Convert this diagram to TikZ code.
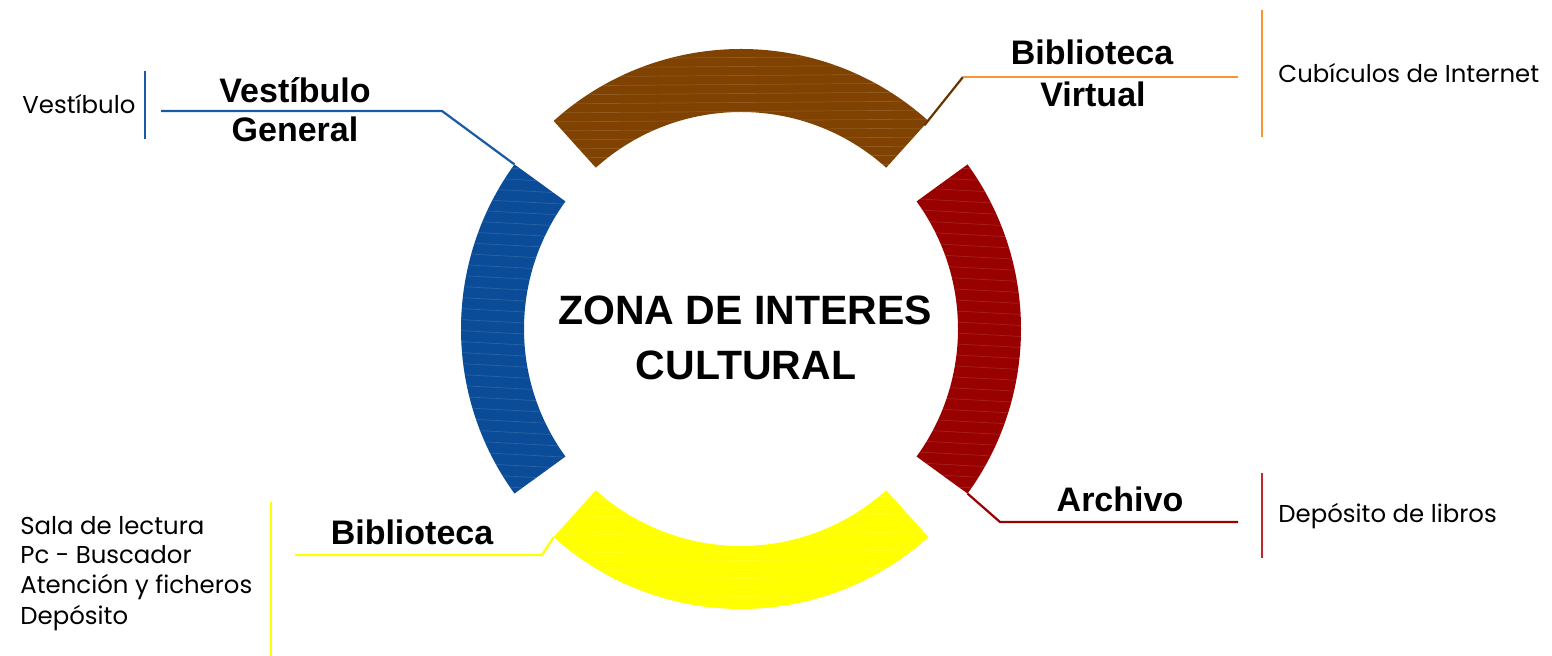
\documentclass[tikz,border=0pt]{standalone}
\usepackage{fontspec}
\setmainfont{Liberation Sans}
\newfontfamily\thinfont{Poppins}
\usetikzlibrary{calc}
\definecolor{cbrown}{RGB}{128,66,0}
\definecolor{cblue}{RGB}{11,76,152}
\definecolor{cred}{RGB}{153,0,0}
\definecolor{cyellow}{RGB}{255,255,0}
\definecolor{corange}{RGB}{247,150,50}
\definecolor{lred}{RGB}{190,40,45}
\definecolor{lblue}{RGB}{25,90,165}
\newcommand{\ringseg}[2]{($(C)+(#1:140pt)$) arc[start angle=#1,end angle=#2,radius=140pt] -- ($(C)+(#2:108.5pt)$) arc[start angle=#2,end angle=#1,radius=108.5pt] -- cycle}
\tikzset{
  lab/.style={font=\bfseries\fontsize{17}{19}\selectfont, inner sep=0pt, anchor=base},
  title/.style={font=\bfseries\fontsize{20.5}{24}\selectfont, inner sep=0pt, anchor=base},
  small/.style={font=\thinfont\fontsize{12.2}{14}\selectfont, inner sep=0pt, anchor=base west},
  conn/.style={line width=1.1pt},
  bar/.style={line width=1.3pt},
  streak/.style={white, opacity=0.13, line width=0.35pt}
}
\begin{document}
\begin{tikzpicture}[x=0.5pt,y=0.5pt]
\useasboundingbox (0,0) rectangle (1552,656);
\coordinate (C) at (741,327);
% ring segments
\fill[cbrown] \ringseg{48}{132};
\fill[cred] \ringseg{-36}{36};
\fill[cyellow] \ringseg{228}{312};
\fill[cblue] \ringseg{144}{216};
% streak texture
\begin{scope}
\clip \ringseg{48}{132};
\foreach \k in {0,...,20} \draw[streak] (540,480+\k*9) -- (950,483+\k*9);
\end{scope}
\begin{scope}
\clip \ringseg{-36}{36};
\foreach \k in {0,...,32} \draw[streak] (900,150+\k*11) -- (1030,143+\k*11);
\end{scope}
\begin{scope}
\clip \ringseg{144}{216};
\foreach \k in {0,...,32} \draw[streak] (450,150+\k*11) -- (580,143+\k*11);
\end{scope}
\begin{scope}
\clip \ringseg{228}{312};
\foreach \k in {0,...,18} \draw[streak] (540,40+\k*9) -- (950,43+\k*9);
\end{scope}
% connector anchor points on the ring
\coordinate (pb) at ($(C)+(144:140pt)$);
\coordinate (pn) at ($(C)+(48:137pt)$);
\coordinate (pr) at ($(C)+(-36:140pt)$);
\coordinate (py) at ($(C)+(228:140pt)$);
\coordinate (kb) at (442,545);
\coordinate (eb) at (161,545);
\coordinate (kn) at (963,579);
\coordinate (en) at (1238,579);
\coordinate (kr) at (1000,134);
\coordinate (er) at (1238,134);
\coordinate (ky) at (542,101);
\coordinate (ey) at (295,101);
\draw[conn, lblue] (pb) -- (kb) -- (eb);
\draw[conn, cbrown!80!black] (pn) -- (kn);
\draw[conn, corange] (kn) -- (en);
\draw[conn, cred] (pr) -- (kr) -- (er);
\draw[conn, cyellow] (py) -- (ky) -- (ey);
% separator bars
\coordinate (vb1) at (145,585); \coordinate (vb2) at (145,517);
\coordinate (vn1) at (1262,646); \coordinate (vn2) at (1262,519);
\coordinate (vr1) at (1262,183); \coordinate (vr2) at (1262,98);
\coordinate (vy1) at (271,154); \coordinate (vy2) at (271,0);
\draw[bar, lblue] (vb1) -- (vb2);
\draw[bar, corange] (vn1) -- (vn2);
\draw[bar, lred] (vr1) -- (vr2);
\draw[bar, cyellow] (vy1) -- (vy2);
% labels
\node[lab] (vg1) at (295,553) {Vestíbulo};
\node[lab] (vg2) at (295,514) {General};
\node[lab] (bv1) at (1092,591) {Biblioteca};
\node[lab] (bv2) at (1093,549) {Virtual};
\node[lab] (ar) at (1120,144) {Archivo};
\node[lab] (bi) at (412,111) {Biblioteca};
\node[title] (z1) at (745,331) {ZONA DE INTERES};
\node[title] (z2) at (746,276) {CULTURAL};
% details
\node[small] (dv) at (22,542) {Vestíbulo};
\node[small] (dn) at (1278,573) {Cubículos de Internet};
\node[small] (dr) at (1278,133) {Depósito de libros};
\node[small] (d1) at (20,121) {Sala de lectura};
\node[small] (d2) at (20,92) {Pc - Buscador};
\node[small] (d3) at (20,62) {Atención y ficheros};
\node[small] (d4) at (20,31) {Depósito};
\end{tikzpicture}
\end{document}
